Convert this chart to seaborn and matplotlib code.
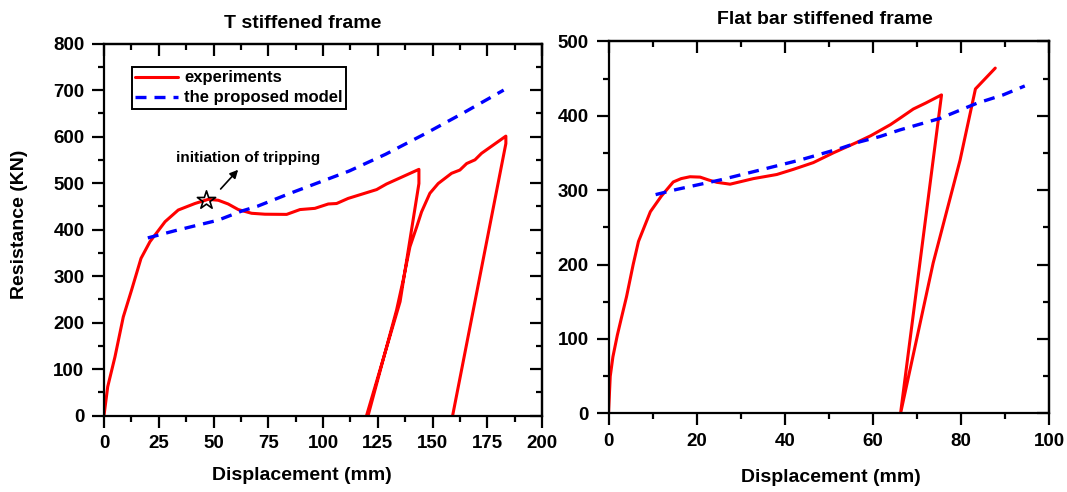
import numpy as np
import pandas as pd
import seaborn as sns
import matplotlib
matplotlib.use("Agg")
import matplotlib.pyplot as plt
from matplotlib.ticker import MultipleLocator

# ---------------- data ----------------
t_exp_x = [0, 1.7, 5.0, 8.8, 12.6, 16.9, 21.0, 27.9, 33.9, 41.5, 47.6, 52.2, 56.7, 61.3,
           67.4, 73.5, 83.4, 89.5, 96.3, 102.4, 106.2, 111.5, 124.5, 129.0, 143.8, 143.8,
           135.2, 119.9, 120.6, 127.0, 133.6, 136.6, 139.7, 142.8, 145.0, 148.8, 152.6, 158.7,
           162.5, 165.6, 169.4, 172.4, 183.5, 183.5, 159.2]
t_exp_y = [0, 62, 126, 212, 270, 338, 374, 417, 442, 456, 465, 463, 455, 443,
           435, 433, 432.6, 443, 445.6, 455, 456, 467, 486, 498, 529.5, 499,
           245, 0, 0, 112, 227, 291, 363, 406, 438, 478, 499, 521,
           528, 542, 550, 564, 601, 585, 0]
t_model_x = [20, 32, 41.5, 52, 63, 70, 85, 103, 112, 128.6, 138, 147, 163, 182.5]
t_model_y = [382, 397, 408, 420, 440, 450, 478, 510, 526, 562, 585, 607, 648, 700]

f_exp_x = [0, 0.4, 1.0, 2.0, 3.0, 4.1, 5.6, 6.8, 9.5, 12.0, 14.7, 16.5, 18.5, 20.8, 22.8,
           24.6, 27.6, 32.9, 38.2, 42.0, 46.5, 51.0, 56.3, 59.5, 64.0, 66.5, 69.2, 72.0,
           75.6, 66.3, 73.7, 79.8, 83.3, 87.8]
f_exp_y = [0, 50, 76, 105, 130, 157, 200, 231, 271, 292, 311, 315.5, 318, 317.5, 313.5,
           310.5, 308, 315.5, 321, 328, 337, 350, 364, 373, 388, 398, 409, 417,
           428, 0, 202, 340, 436, 464]
f_model_x = [10.7, 15.5, 25.3, 34.4, 43.5, 52.6, 57.1, 61.6, 66.2, 75.3, 83.6, 89.6, 94.5]
f_model_y = [294, 301, 313.6, 327, 340.5, 356, 365, 372, 381, 396.5, 416.7, 428, 440]

titles = ["T stiffened frame", "Flat bar stiffened frame"]
series_labels = ["experiments", "the proposed model"]
trip_point = (46.8, 462.6)
trip_text = "initiation of tripping"

# ---------------- style ----------------
sns.set_theme(style="ticks")
plt.rcParams["font.family"] = ["Liberation Sans", "DejaVu Sans"]
plt.rcParams["font.weight"] = "bold"
plt.rcParams["axes.linewidth"] = 1.6
for k in ["text.color", "axes.labelcolor", "xtick.color", "ytick.color", "axes.edgecolor"]:
    plt.rcParams[k] = "black"

fig = plt.figure(figsize=(10.67, 4.92), dpi=100)
W, H = 1067, 492
axL = fig.add_axes([104 / W, 1 - 415.5 / H, (542 - 104) / W, (415.5 - 43.6) / H])
axR = fig.add_axes([608.5 / W, 1 - 413.4 / H, (1049 - 608.5) / W, (413.4 - 41.3) / H])

RED = "#ff0000"
BLUE = "#0000ff"
DASH = (3.3, 2.4)

def draw(ax, ex, ey, mx, my):
    d1 = pd.DataFrame({"x": ex, "y": ey})
    d2 = pd.DataFrame({"x": mx, "y": my})
    sns.lineplot(data=d1, x="x", y="y", sort=False, estimator=None, ax=ax,
                 color=RED, lw=2.2, label=series_labels[0])
    sns.lineplot(data=d2, x="x", y="y", sort=False, estimator=None, ax=ax,
                 color=BLUE, lw=2.4, dashes=False, label=series_labels[1])
    ax.lines[-1].set_dashes(DASH)

draw(axL, t_exp_x, t_exp_y, t_model_x, t_model_y)
draw(axR, f_exp_x, f_exp_y, f_model_x, f_model_y)

def style_axes(ax, xlim, ylim, xmaj, xmin, ymaj, ymin):
    ax.set_xlim(*xlim)
    ax.set_ylim(*ylim)
    ax.xaxis.set_major_locator(MultipleLocator(xmaj))
    ax.xaxis.set_minor_locator(MultipleLocator(xmin))
    ax.yaxis.set_major_locator(MultipleLocator(ymaj))
    ax.yaxis.set_minor_locator(MultipleLocator(ymin))
    ax.tick_params(which="both", direction="out", top=False, right=False,
                   width=1.6, labelsize=13.5, pad=5.5, colors="black")
    ax.tick_params(which="major", length=8.6)
    ax.tick_params(which="minor", length=4.3)
    for lab in ax.get_xticklabels() + ax.get_yticklabels():
        lab.set_fontweight("bold")
    ax.set_xlabel("")
    ax.set_ylabel("")
    for s in ax.spines.values():
        s.set_visible(True)
        s.set_color("black")
        s.set_linewidth(1.6)
    sx = ax.secondary_xaxis("top")
    sx.xaxis.set_major_locator(MultipleLocator(xmaj))
    sx.xaxis.set_minor_locator(MultipleLocator(xmin))
    sx.tick_params(which="both", direction="in", labeltop=False, width=1.6, colors="black")
    sx.tick_params(which="major", length=8.6)
    sx.tick_params(which="minor", length=4.3)
    sy = ax.secondary_yaxis("right")
    sy.yaxis.set_major_locator(MultipleLocator(ymaj))
    sy.yaxis.set_minor_locator(MultipleLocator(ymin))
    sy.tick_params(which="both", direction="in", labelright=False, width=1.6, colors="black")
    sy.tick_params(which="major", length=8.6)
    sy.tick_params(which="minor", length=4.3)

style_axes(axL, (0, 200), (0, 800), 25, 12.5, 100, 50)
style_axes(axR, (0, 100), (0, 500), 20, 10, 100, 50)

# legend only on left
axR.get_legend().remove()
leg = axL.legend(loc="upper left", bbox_to_anchor=(0.063, 0.937), borderaxespad=0,
                 frameon=True, fancybox=False, edgecolor="black", framealpha=1,
                 prop={"size": 12, "weight": "bold"}, handlelength=2.6,
                 handletextpad=0.35, borderpad=0.2, labelspacing=0.3)
leg.get_frame().set_linewidth(1.4)
for t in leg.get_texts():
    t.set_color("black")

# star and annotation
axL.scatter([trip_point[0]], [trip_point[1]], marker="*", s=190, facecolors="none",
            edgecolors="black", linewidths=1.2, zorder=5)
axL.annotate("", xy=(62.1, 533), xytext=(52.4, 482.8),
             arrowprops=dict(arrowstyle="-|>", color="black", lw=1.2,
                             mutation_scale=12))
axL.text(65.7, 554, trip_text, ha="center", va="center", fontsize=11,
         fontweight="bold", color="black")

# titles & labels
axL.text(0.454, 1.055, titles[0], transform=axL.transAxes, ha="center", va="center",
         fontsize=14, fontweight="bold", color="black")
axR.text(0.491, 1.059, titles[1], transform=axR.transAxes, ha="center", va="center",
         fontsize=14, fontweight="bold", color="black")
fig.text(20 / W, 1 - 224 / H, "Resistance (KN)", rotation=90, ha="center", va="center",
         fontsize=14, fontweight="bold", color="black")
fig.text(302 / W, 1 - 476 / H, "Displacement (mm)", ha="center", va="center",
         fontsize=14, fontweight="bold", color="black")
fig.text(831 / W, 1 - 478 / H, "Displacement (mm)", ha="center", va="center",
         fontsize=14, fontweight="bold", color="black")

fig.savefig("out.png", dpi=100, facecolor="white")
